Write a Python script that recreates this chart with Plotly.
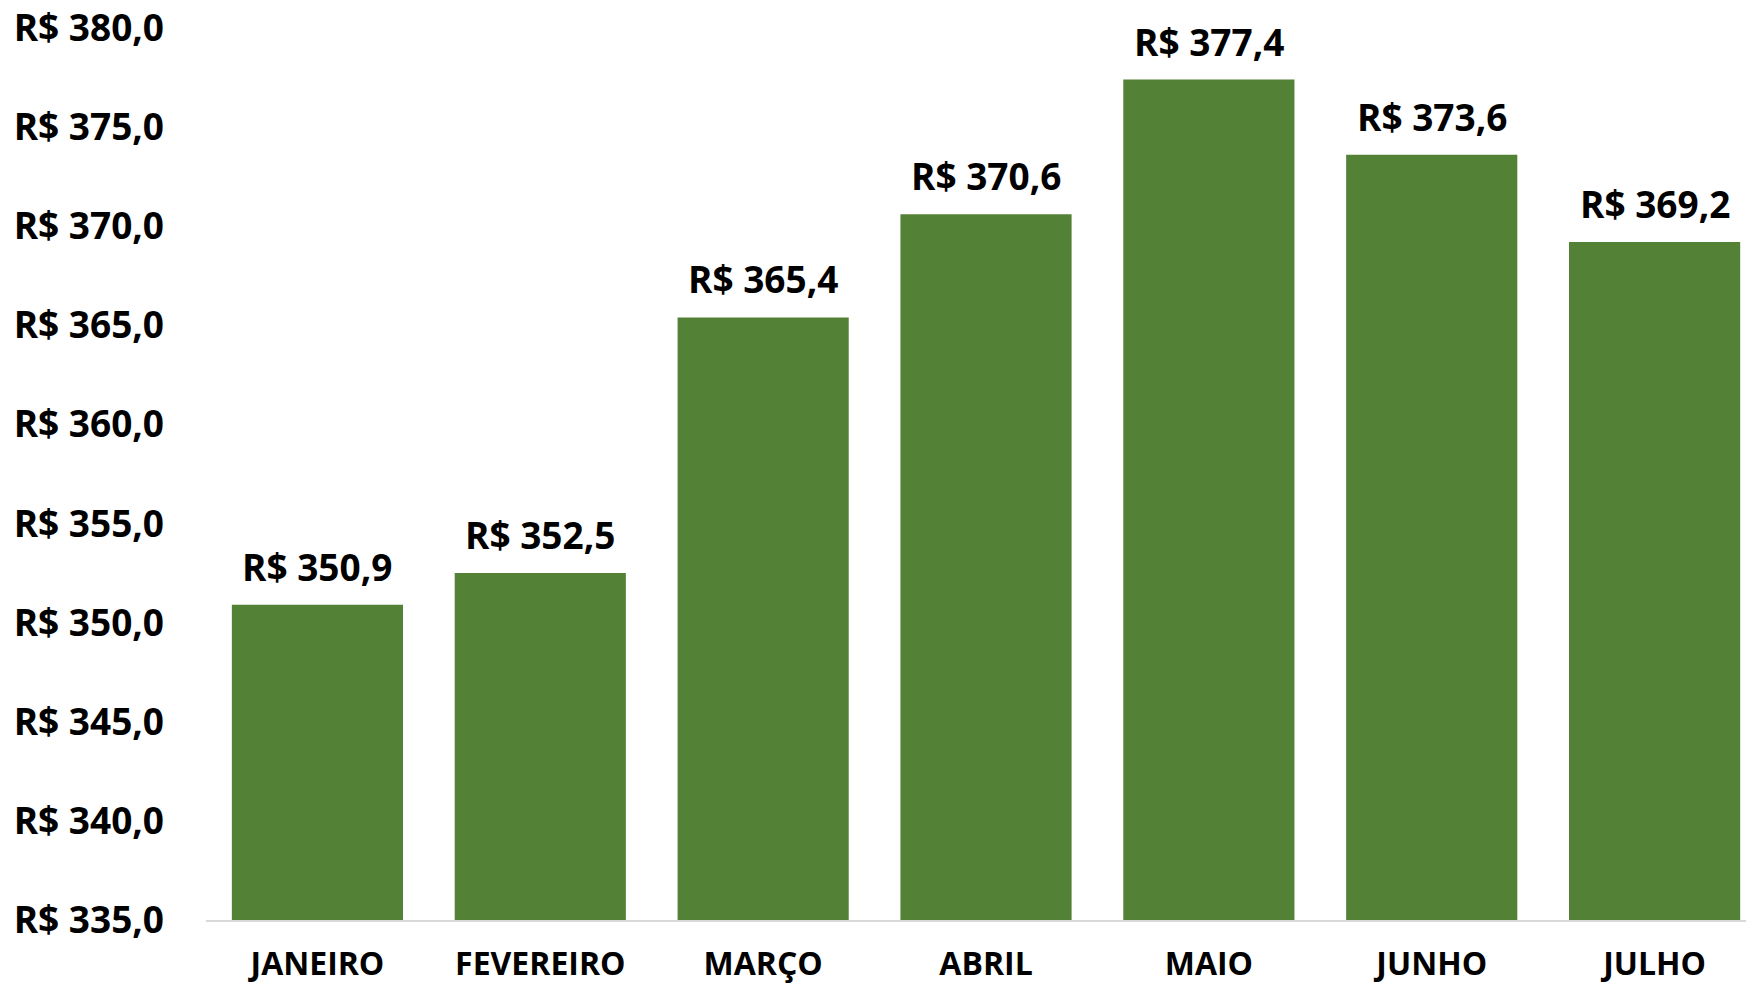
import plotly.graph_objects as go

months = ["JANEIRO", "FEVEREIRO", "MARÇO", "ABRIL", "MAIO", "JUNHO", "JULHO"]
values = [350.9, 352.5, 365.4, 370.6, 377.4, 373.6, 369.2]
y_ticks = [335, 340, 345, 350, 355, 360, 365, 370, 375, 380]


def brl(v):
    return "R$ " + f"{v:.1f}".replace(".", ",")


FONT = "Open Sans"
GREEN = "#538135"

fig = go.Figure(
    go.Bar(
        x=list(range(len(months))),
        y=values,
        marker=dict(color=GREEN, line=dict(width=0)),
        hovertemplate="%{y}<extra></extra>",
    )
)

for i, v in enumerate(values):
    fig.add_annotation(
        x=i, y=v, xref="x", yref="y",
        text=brl(v), showarrow=False,
        yanchor="bottom", xanchor="center", yshift=11,
        font=dict(family=FONT, size=37, color="black", weight="bold"),
    )

# page body has an 8px default margin, so the figure is sized to fill the rest
fig.update_layout(
    width=1746,
    height=978,
    margin=dict(l=198, r=0, t=20, b=66, autoexpand=False),
    plot_bgcolor="white",
    paper_bgcolor="white",
    bargap=0.232,
    showlegend=False,
    font=dict(family=FONT, size=37, color="black"),
)

fig.update_xaxes(
    tickmode="array",
    tickvals=list(range(len(months))),
    ticktext=months,
    range=[-0.5, 6.446],
    automargin=False,
    showgrid=False,
    zeroline=False,
    showline=True,
    linecolor="#D9D9D9",
    linewidth=2,
    ticks="",
    ticklabelstandoff=15,
    ticklabeloverflow="allow",
    tickfont=dict(family=FONT, size=32, color="black", weight="bold"),
)

fig.update_yaxes(
    range=[335, 380],
    tickmode="array",
    tickvals=y_ticks,
    ticktext=[brl(t) for t in y_ticks],
    automargin=False,
    showgrid=False,
    zeroline=False,
    showline=False,
    ticks="",
    ticklabelstandoff=41,
    ticklabeloverflow="allow",
    tickfont=dict(family=FONT, size=37, color="black", weight="bold"),
)

fig.write_html("out.html")
